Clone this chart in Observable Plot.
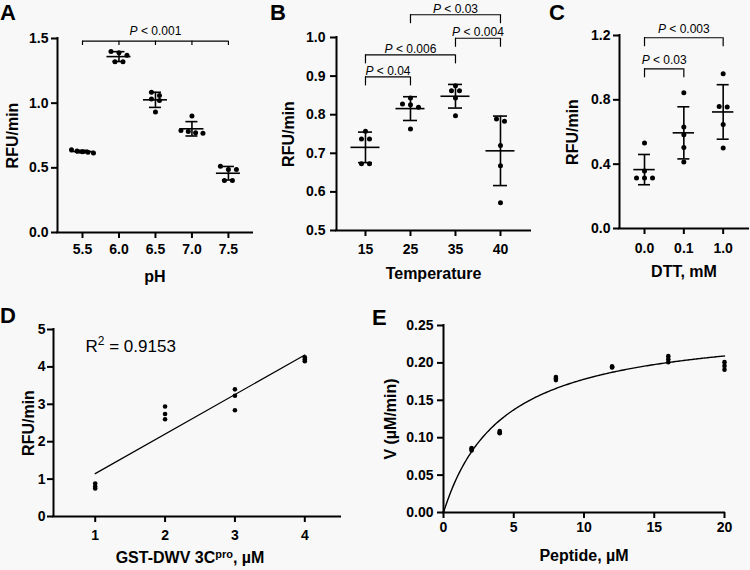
<!DOCTYPE html>
<html><head><meta charset="utf-8">
<script src="https://cdn.jsdelivr.net/npm/d3@7"></script>
<script src="https://cdn.jsdelivr.net/npm/@observablehq/plot@0.6"></script>
<style>
html,body{margin:0;padding:0;background:#f8f8f8;}
#fig{position:relative;width:750px;height:570px;background:#f8f8f8;overflow:hidden;font-family:"Liberation Sans",Arial,Helvetica,sans-serif;}
#fig svg{position:absolute;left:0;top:0;overflow:visible;}
.letter{position:absolute;font-weight:bold;font-size:22px;line-height:1;font-family:"Liberation Sans",Arial,Helvetica,sans-serif;color:#000;}
</style></head>
<body><div id="fig"></div>
<script>
// ---------------- data ----------------
const phCats = ["5.5", "6.0", "6.5", "7.0", "7.5"];
const phVals = [
  [0.64, 0.63, 0.625, 0.615, 0.62],
  [1.39, 1.40, 1.37, 1.32, 1.32],
  [1.085, 1.059, 1.033, 1.021, 0.931],
  [0.90, 0.768, 0.789, 0.771, 0.781],
  [0.513, 0.487, 0.487, 0.402, 0.402]
];
const tempCats = ["15", "25", "35", "40"];
const tempVals = [
  [0.757, 0.737, 0.737, 0.673, 0.673],
  [0.843, 0.828, 0.826, 0.819, 0.763],
  [0.875, 0.862, 0.862, 0.843, 0.797],
  [0.789, 0.783, 0.72, 0.668, 0.572]
];
const dttCats = ["0.0", "0.1", "1.0"];
const dttVals = [
  [0.531, 0.358, 0.314, 0.314, 0.314],
  [0.844, 0.631, 0.583, 0.503, 0.413],
  [0.962, 0.755, 0.759, 0.647, 0.50]
];
const enzConc = [1, 2, 3, 4];
const enzRates = [
  [0.88, 0.80, 0.75],
  [2.94, 2.74, 2.60],
  [3.40, 3.23, 2.84],
  [4.26, 4.20, 4.15]
];
const pepConc = [2, 4, 8, 12, 16, 20];
const pepRates = [
  [0.083, 0.085, 0.086],
  [0.106, 0.107, 0.109],
  [0.177, 0.179, 0.181],
  [0.194, 0.195, 0.195],
  [0.201, 0.205, 0.209],
  [0.191, 0.196, 0.201]
];
// significance annotations (level = bracket height in data units)
const sigA = [{cats: ["5.5", "6.0", "6.5", "7.0", "7.5"], label: "P < 0.001", level: 1.479}];
const sigB = [
  {cats: ["15", "25"], label: "P < 0.04", level: 0.898},
  {cats: ["15", "35"], label: "P < 0.006", level: 0.955},
  {cats: ["35", "40"], label: "P < 0.004", level: 0.998},
  {cats: ["25", "40"], label: "P < 0.03", level: 1.059}
];
const sigC = [
  {cats: ["0.0", "0.1"], label: "P < 0.03", level: 0.993},
  {cats: ["0.0", "1.0"], label: "P < 0.003", level: 1.186}
];
// tick values
const ticksA = [0, 0.5, 1.0, 1.5];
const ticksB = [0.5, 0.6, 0.7, 0.8, 0.9, 1.0];
const ticksC = [0, 0.4, 0.8, 1.2];
const ticksDy = [0, 1, 2, 3, 4, 5];
const ticksDx = [1, 2, 3, 4];
const ticksEy = [0, 0.05, 0.10, 0.15, 0.20, 0.25];
const ticksEx = [0, 5, 10, 15, 20];
const r2Label = ["R2 = 0.9153"];

// ---------------- drawing ----------------
const W = 750, H = 570;
const FONT = '"Liberation Sans", Arial, Helvetica, sans-serif';
const fig = document.getElementById("fig");

function styleObj() {
  return {background: "transparent", fontFamily: FONT, fontWeight: "bold", color: "black", overflow: "visible"};
}

function axisMarks(o) {
  const xmid = (o.xdom[0] + o.xdom[1]) / 2, ymid = (o.ydom[0] + o.ydom[1]) / 2;
  return [
    Plot.axisY({ticks: o.yticks, tickFormat: o.yfmt, tickSize: 6, tickPadding: o.ypad, fontSize: 14, strokeWidth: 2, label: null}),
    Plot.axisX({ticks: o.xticks, tickFormat: o.xfmt, tickSize: 6, tickPadding: o.xpad, fontSize: 14, strokeWidth: 2, label: null}),
    Plot.ruleX([o.xdom[0]], {strokeWidth: 2, strokeLinecap: "square"}),
    Plot.ruleY([o.ydom[0]], {strokeWidth: 2, strokeLinecap: "square"}),
    Plot.text([o.xlabel], {x: () => xmid, y: () => o.ydom[0], text: d => d, dy: o.xlabOff, dx: o.xlabDx || 0,
      textAnchor: "middle", lineAnchor: "middle", fontSize: 16}),
    Plot.text([o.ylabel], {x: () => o.xdom[0], y: () => ymid, text: d => d, dx: -o.ylabOff, rotate: -90,
      textAnchor: "middle", lineAnchor: "middle", fontSize: 16})
  ];
}

function finish(svg) {
  svg.querySelectorAll("text").forEach(t => {
    const s = t.textContent;
    if (/^P </.test(s)) {
      t.innerHTML = '<tspan font-style="italic">P</tspan>' + s.slice(1).replace("<", "&lt;");
    } else if (s === "R2 = 0.9153") {
      t.innerHTML = 'R<tspan dy="-7" font-size="12">2</tspan><tspan dy="7"> = 0.9153</tspan>';
    } else if (s.startsWith("GST-DWV 3Cpro")) {
      t.innerHTML = 'GST-DWV 3C<tspan dy="-5" font-size="11">pro</tspan><tspan dy="5">, \u00b5M</tspan>';
    }
  });
  fig.appendChild(svg);
}

function catPanel(o) {
  const pw = W - o.ml - o.mr, ph = H - o.mt - o.mb;
  const pxX = pw / (o.xdom[1] - o.xdom[0]);
  const pxY = ph / (o.ydom[1] - o.ydom[0]);
  const pts = [], stats = [];
  o.cats.forEach((c, i) => {
    const v = o.vals[i];
    const m = d3.mean(v), s = d3.deviation(v);
    stats.push({i, m, lo: m - s, hi: m + s});
    const sorted = v.slice().sort((a, b) => b - a);
    const rows = [];
    for (const y of sorted) {
      const r = rows[rows.length - 1];
      if (r && (r[0] - y) * pxY < 4.5) r.push(y); else rows.push([y]);
    }
    for (const r of rows) {
      const n = r.length, sp = n > 1 ? Math.min(8, 22 / (n - 1)) : 0;
      r.forEach((y, k) => pts.push({x: i + (k - (n - 1) / 2) * sp / pxX, y}));
    }
  });
  const capW = o.capPx / pxX, meanW = o.meanPx / pxX;
  const segs = [], legs = [], labels = [];
  for (const b of o.sig) {
    const idx = b.cats.map(c => o.cats.indexOf(c));
    const x1 = d3.min(idx), x2 = d3.max(idx);
    segs.push({x1, x2, y: b.level});
    idx.forEach(i => legs.push({x: i, y1: b.level, y2: b.level - o.legPx / pxY}));
    labels.push({x: (x1 + x2) / 2, y: b.level + o.textPx / pxY, text: b.label});
  }
  const svg = Plot.plot({
    width: W, height: H,
    marginLeft: o.ml, marginRight: o.mr, marginTop: o.mt, marginBottom: o.mb,
    style: styleObj(),
    x: {domain: o.xdom},
    y: {domain: o.ydom},
    marks: [
      ...axisMarks({
        xdom: o.xdom, ydom: o.ydom, yticks: o.yticks, yfmt: d3.format(".1f"),
        xticks: o.cats.map((c, i) => i), xfmt: i => o.cats[i],
        xpad: o.xpad, ypad: o.ypad, xlabel: o.xlabel, ylabel: o.ylabel,
        xlabOff: o.xlabOff, ylabOff: o.ylabOff
      }),
      Plot.ruleX(stats, {x: "i", y1: "lo", y2: "hi", strokeWidth: 1.6}),
      Plot.ruleY(stats, {y: "lo", x1: d => d.i - capW, x2: d => d.i + capW, strokeWidth: 1.6}),
      Plot.ruleY(stats, {y: "hi", x1: d => d.i - capW, x2: d => d.i + capW, strokeWidth: 1.6}),
      Plot.ruleY(stats, {y: "m", x1: d => d.i - meanW, x2: d => d.i + meanW, strokeWidth: 1.6}),
      Plot.dot(pts, {x: "x", y: "y", r: 2.5, fill: "black"}),
      Plot.ruleY(segs, {x1: "x1", x2: "x2", y: "y", strokeWidth: 1.2}),
      Plot.ruleX(legs, {x: "x", y1: "y1", y2: "y2", strokeWidth: 1.2}),
      Plot.text(labels, {x: "x", y: "y", text: "text", fontSize: 12, fontWeight: "normal"})
    ]
  });
  finish(svg);
}

// Panel A
catPanel({cats: phCats, vals: phVals, sig: sigA,
  ml: 57, mr: 498, mt: 38, mb: 338, xdom: [-0.685, 4.66], ydom: [0, 1.5], yticks: ticksA,
  xpad: 6, ypad: 3, xlabel: "pH", ylabel: "RFU/min", xlabOff: 44, ylabOff: 45,
  meanPx: 12, capPx: 6, legPx: 4.3, textPx: 10});
// Panel B
catPanel({cats: tempCats, vals: tempVals, sig: sigB,
  ml: 336, mr: 220, mt: 37, mb: 340, xdom: [-0.644, 3.667], ydom: [0.5, 1.0], yticks: ticksB,
  xpad: 8, ypad: 5, xlabel: "Temperature", ylabel: "RFU/min", xlabOff: 43, ylabOff: 48,
  meanPx: 14.5, capPx: 7, legPx: 9, textPx: 6});
// Panel C
catPanel({cats: dttCats, vals: dttVals, sig: sigC,
  ml: 619, mr: 2, mt: 35, mb: 342, xdom: [-0.636, 2.644], ydom: [0, 1.2], yticks: ticksC,
  xpad: 9, ypad: 3, xlabel: "DTT, mM", ylabel: "RFU/min", xlabOff: 43, ylabOff: 47,
  meanPx: 10.7, capPx: 6, legPx: 9, textPx: 8.5});

// Panel D
{
  const pts = enzConc.flatMap((x, i) => enzRates[i].map(y => ({x, y})));
  const xdom = [0.403, 4.511], ydom = [0, 5];
  const svg = Plot.plot({
    width: W, height: H, marginLeft: 53, marginRight: 410, marginTop: 329, marginBottom: 54,
    style: styleObj(),
    x: {domain: xdom}, y: {domain: ydom},
    marks: [
      ...axisMarks({xdom, ydom, yticks: ticksDy, yfmt: d3.format("d"), xticks: ticksDx, xfmt: d3.format("d"),
        xpad: 8, ypad: 2, xlabel: "GST-DWV 3Cpro, \u00b5M", ylabel: "RFU/min", xlabOff: 41, xlabDx: -7, ylabOff: 25}),
      Plot.linearRegressionY(pts, {x: "x", y: "y", ci: 0, stroke: "black", strokeWidth: 1.2}),
      Plot.dot(pts, {x: "x", y: "y", r: 2.3, fill: "black"}),
      Plot.text(r2Label, {x: () => xdom[0], y: () => ydom[1], text: d => d, dx: 32, dy: 17,
        textAnchor: "start", lineAnchor: "middle", fontSize: 17, fontWeight: "normal"})
    ]
  });
  finish(svg);
}

// Panel E
{
  const pts = pepConc.flatMap((x, i) => pepRates[i].map(y => ({x, y})));
  // least-squares Michaelis-Menten fit of the data
  let best = {sse: Infinity};
  for (let km = 0.5; km <= 20; km += 0.01) {
    const f = pts.map(p => p.x / (km + p.x));
    const vmax = d3.sum(pts, (p, j) => p.y * f[j]) / d3.sum(f, v => v * v);
    const sse = d3.sum(pts, (p, j) => (p.y - vmax * f[j]) ** 2);
    if (sse < best.sse) best = {sse, km, vmax};
  }
  const curve = d3.range(0, 20.0001, 0.1).map(s => ({x: s, y: best.vmax * s / (best.km + s)}));
  const xdom = [0, 20], ydom = [0, 0.25];
  const svg = Plot.plot({
    width: W, height: H, marginLeft: 443, marginRight: 26, marginTop: 325, marginBottom: 58,
    style: styleObj(),
    x: {domain: xdom}, y: {domain: ydom},
    marks: [
      ...axisMarks({xdom, ydom, yticks: ticksEy, yfmt: d3.format(".2f"), xticks: ticksEx, xfmt: d3.format("d"),
        xpad: 4, ypad: 4, xlabel: "Peptide, \u00b5M", ylabel: "V (\u00b5M/min)", xlabOff: 43, ylabOff: 53}),
      Plot.line(curve, {x: "x", y: "y", stroke: "black", strokeWidth: 1.4}),
      Plot.dot(pts, {x: "x", y: "y", r: 2.3, fill: "black"})
    ]
  });
  finish(svg);
}

// panel letters
[["A", 0, 2], ["B", 270, 2], ["C", 549, 2], ["D", 0, 305], ["E", 372, 307]].forEach(([t, l, tp]) => {
  const d = document.createElement("div");
  d.className = "letter"; d.textContent = t;
  d.style.left = l + "px"; d.style.top = tp + "px";
  fig.appendChild(d);
});
</script></body></html>
